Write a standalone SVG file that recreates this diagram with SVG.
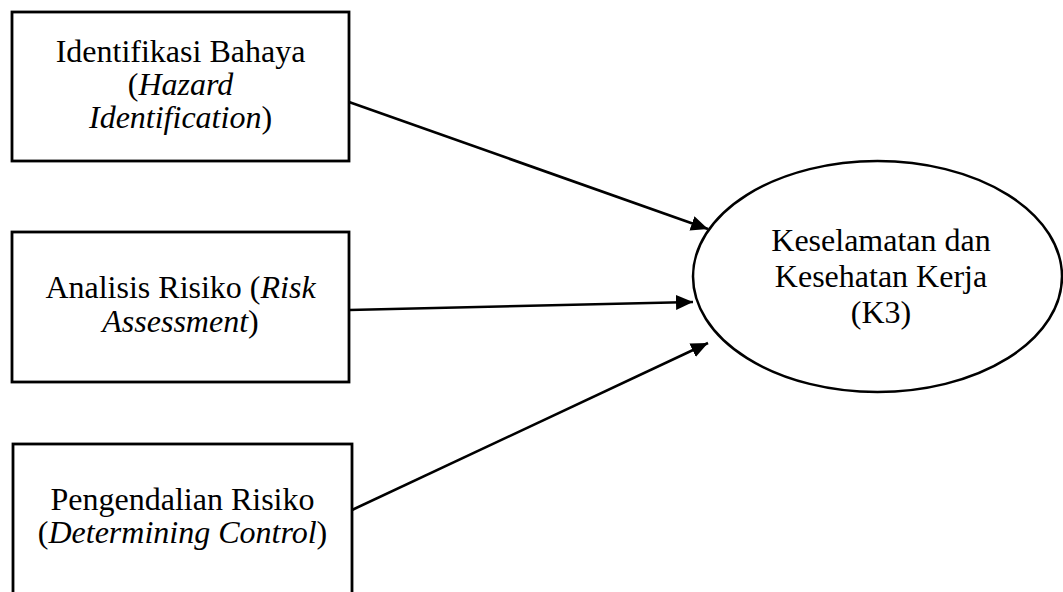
<svg xmlns="http://www.w3.org/2000/svg" width="1063" height="592" viewBox="0 0 1063 592">
<style>
.box{fill:#fff;stroke:#000;stroke-width:2.8}
.ell{fill:#fff;stroke:#000;stroke-width:2.5}
.t{font-family:"Liberation Serif","Times New Roman",serif;font-size:32px;fill:#000;text-anchor:middle}
.i{font-style:italic}
.c{stroke:#000;stroke-width:2.6;fill:none;marker-end:url(#ah)}
</style>
<defs>
<marker id="ah" markerUnits="userSpaceOnUse" markerWidth="20" markerHeight="16" refX="17" refY="7.5" orient="auto">
<path d="M0,0 L17,7.5 L0,15 Z" fill="#000"/>
</marker>
</defs>
<rect width="1063" height="592" fill="#fff"/>
<g id="connectors">
<line class="c" x1="349" y1="102" x2="708" y2="229"/>
<line class="c" x1="349" y1="310" x2="693" y2="302"/>
<line class="c" x1="352" y1="510" x2="708" y2="343"/>
</g>
<g id="node-identifikasi">
<rect class="box" x="12" y="12" width="337" height="149"/>
<text class="t" x="180.5" y="62">Identifikasi Bahaya</text>
<text class="t" x="180.5" y="95">(<tspan class="i">Hazard</tspan></text>
<text class="t" x="180.5" y="128"><tspan class="i">Identification</tspan>)</text>
</g>
<g id="node-analisis">
<rect class="box" x="12" y="232" width="337" height="150"/>
<text class="t" x="180.5" y="298">Analisis Risiko (<tspan class="i">Risk</tspan></text>
<text class="t" x="180.5" y="332"><tspan class="i">Assessment</tspan>)</text>
</g>
<g id="node-pengendalian">
<rect class="box" x="13" y="444" width="339" height="160"/>
<text class="t" x="182.5" y="510">Pengendalian Risiko</text>
<text class="t" x="182.5" y="543">(<tspan class="i">Determining Control</tspan>)</text>
</g>
<g id="node-k3">
<ellipse class="ell" cx="877.5" cy="276.5" rx="184.5" ry="115.5"/>
<text class="t" x="881" y="251">Keselamatan dan</text>
<text class="t" x="881" y="287">Kesehatan Kerja</text>
<text class="t" x="881" y="323">(K3)</text>
</g>
</svg>
